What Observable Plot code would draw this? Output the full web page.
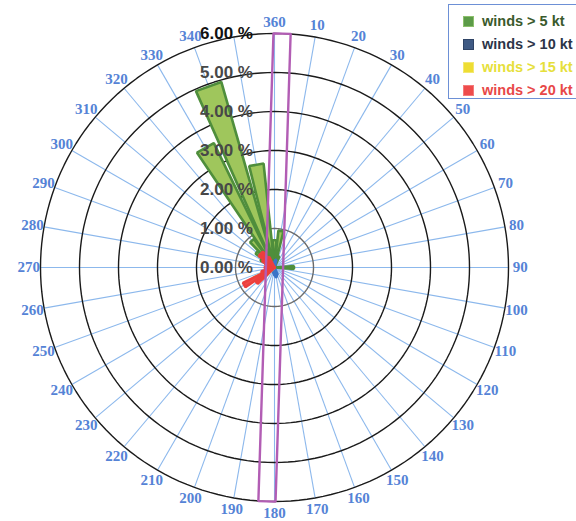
<!DOCTYPE html>
<html><head><meta charset="utf-8">
<script src="https://cdn.jsdelivr.net/npm/d3@7"></script>
<script src="https://cdn.jsdelivr.net/npm/@observablehq/plot@0.6"></script>
<style>
body{margin:0;background:#fff;}
#wrap{position:relative;width:576px;height:521px;overflow:hidden;}
#legend{position:absolute;left:448px;top:4px;width:132px;height:95px;border:1.5px solid #6d90d6;background:#fff;box-sizing:border-box;font-family:"Liberation Sans",Arial,sans-serif;font-weight:bold;font-size:14.5px;}
.row{position:absolute;left:14px;height:18px;display:flex;align-items:center;white-space:nowrap;}
.sw{width:11px;height:11px;margin-right:8px;box-sizing:border-box;}
</style></head><body>
<div id="wrap"><div id="chart"></div><div id="legend"></div></div>
<script>
// ---- data ----
const directions = [0,10,20,30,40,50,60,70,80,90,100,110,120,130,140,150,160,170,180,190,200,210,220,230,240,250,260,270,280,290,300,310,320,330,340,350];
// the 350 label is hidden behind the "6.00 %" label in the reference
const directionLabels = ["360","10","20","30","40","50","60","70","80","90","100","110","120","130","140","150","160","170","180","190","200","210","220","230","240","250","260","270","280","290","300","310","320","330","340",""];
const series = ["winds > 5 kt","winds > 10 kt","winds > 15 kt","winds > 20 kt"];
//                0    10   20   30 40 50 60 70 80  90  100 110 120 130 140 150 160 170 180 190 200 210 220 230 240 250 260 270 280 290 300  310  320  330   340   350
const winds5  = [0.7, 0.95,0.3, 0, 0, 0, 0, 0, 0, 0.5, 0,  0,  0,  0,  0,  0,  0,  0,  0,  0,  0,  0,  0,  0,  0,  0,  0,  0,  0,  0.2,0.4, 0.6, 0.9, 3.55, 4.95, 2.68];
const winds10 = [0.15,0.2, 0,   0, 0, 0, 0, 0, 0, 0,   0,  0,  0,  0,  0,  0,  0.2,0.25,0.2,0.15,0, 0,  0,  0,  0,  0,  0,  0,  0,  0,  0,   0,   0,   0,    0,    0];
const winds15 = [0,   0,   0,   0, 0, 0, 0, 0, 0, 0,   0,  0,  0,  0,  0,  0,  0,  0,  0,  0,  0,  0,  0,  0.4,0.6,0,  0,  0,  0,  0,  0,   0.3, 0.3, 0,    0,    0];
const winds20 = [0,   0,   0,   0, 0, 0, 0, 0, 0, 0,   0,  0,  0,  0,  0,  0,  0,  0,  0,  0,  0,  0,  0,  0.6,0.9,0.35,0.2,0.25,0.2,0.25,0.35,0.5,0.5,0.3,0,    0];
const seriesColors = [
  {fill:"#9fc65c", stroke:"#4f8e3c", swatch:"#5c9b48", swatchBorder:"#8cbf6c", text:"#3a5a2c"},
  {fill:"#4a86d8", stroke:"#3b74c6", swatch:"#3f5a84", swatchBorder:"#2f4466", text:"#2c3548"},
  {fill:"#eee03a", stroke:"#e0d22a", swatch:"#eedd33", swatchBorder:"#f3e870", text:"#e6df3c"},
  {fill:"#f04a48", stroke:"#ec3f3d", swatch:"#ee4c4c", swatchBorder:"#f47a7a", text:"#e84848"}
];
const ringValues = [1,2,3,4,5,6];
const ringLabelValues = [0,1,2,3,4,5,6];
const ringLabels = ["0.00 %","1.00 %","2.00 %","3.00 %","4.00 %","5.00 %","6.00 %"];
const runwayHeading = 1.85;     // degrees
const runwayHalfWidth = 0.22;   // in % units
const runwayLength = 6;

// ---- geometry helpers ----
const rad = d => d * Math.PI / 180;
const pt = (r, a) => ({x: r * Math.sin(rad(a)), y: r * Math.cos(rad(a))});
const maxR = 6;
const labelR = 6.3;
const halfAngle = 4;

const allSeries = [winds5, winds10, winds15, winds20];
const wedgeData = allSeries.map((vals, si) => {
  const out = [];
  vals.forEach((v, i) => {
    if (v > 0) {
      const a = directions[i];
      const id = si + "-" + i;
      [[0, a], [v, a - halfAngle], [v, a + halfAngle], [0, a]].forEach(([r, aa]) => out.push({id, ...pt(r, aa)}));
    }
  });
  return out;
});

const ringPts = ringValues.flatMap(r => d3.range(0, 361, 2).map(a => ({ring: r, ...pt(r, a)})));

const h = rad(runwayHeading);
const u = [Math.sin(h), Math.cos(h)], p = [Math.cos(h), -Math.sin(h)];
const runway = [[1,1],[1,-1],[-1,-1],[-1,1],[1,1]].map(([s, t]) => ({
  x: s * runwayLength * u[0] + t * runwayHalfWidth * p[0],
  y: s * runwayLength * u[1] + t * runwayHalfWidth * p[1]
}));

const k = 39; // px per %
const cx = 274, cy = 267, W = 576, H = 521;

const chart = Plot.plot({
  width: W, height: H, margin: 0,
  x: {domain: [-cx / k, (W - cx) / k], axis: null},
  y: {domain: [-(H - cy) / k, cy / k], axis: null},
  marks: [
    Plot.link(directions, {x1: 0, y1: 0, x2: d => pt(maxR, d).x, y2: d => pt(maxR, d).y, stroke: "#8cb8ec", strokeWidth: 1.1}),
    Plot.line(ringPts, {x: "x", y: "y", z: "ring", stroke: d => d.ring === 1 ? "#6a6a6a" : "#1a1a1a", strokeWidth: 1.4}),
    ...wedgeData.map((wd, si) => Plot.line(wd, {x: "x", y: "y", z: "id", fill: seriesColors[si].fill, stroke: seriesColors[si].stroke, strokeWidth: 2.6, strokeLinejoin: "miter", curve: "linear"})),
    Plot.text(ringLabelValues, {x: 0, y: d => d, text: (d, i) => ringLabels[i], dx: -48, fontSize: 17, fontWeight: "bold", fontFamily: "'Liberation Sans', Arial, sans-serif", fill: d => d === 6 ? "#111" : "#484848"}),
    Plot.text(directions, {x: d => pt(labelR, d).x, y: d => pt(labelR, d).y, text: (d, i) => directionLabels[i], fontSize: 15, fontWeight: "bold", fontFamily: "'Liberation Serif', 'Times New Roman', serif", fill: "#5583d6"}),
    Plot.line(runway, {x: "x", y: "y", stroke: "#b25db4", strokeWidth: 2.4, strokeLinejoin: "miter"})
  ]
});
document.getElementById("chart").appendChild(chart);

// legend
const legend = document.getElementById("legend");
const rowTops = [7, 30, 53, 76];
series.forEach((s, i) => {
  const row = document.createElement("div");
  row.className = "row";
  row.style.top = rowTops[i] + "px";
  const sw = document.createElement("div");
  sw.className = "sw";
  sw.style.background = seriesColors[i].swatch;
  sw.style.border = "1.5px solid " + seriesColors[i].swatchBorder;
  const tx = document.createElement("span");
  tx.textContent = s;
  tx.style.color = seriesColors[i].text;
  row.appendChild(sw); row.appendChild(tx);
  legend.appendChild(row);
});
</script>
</body></html>
